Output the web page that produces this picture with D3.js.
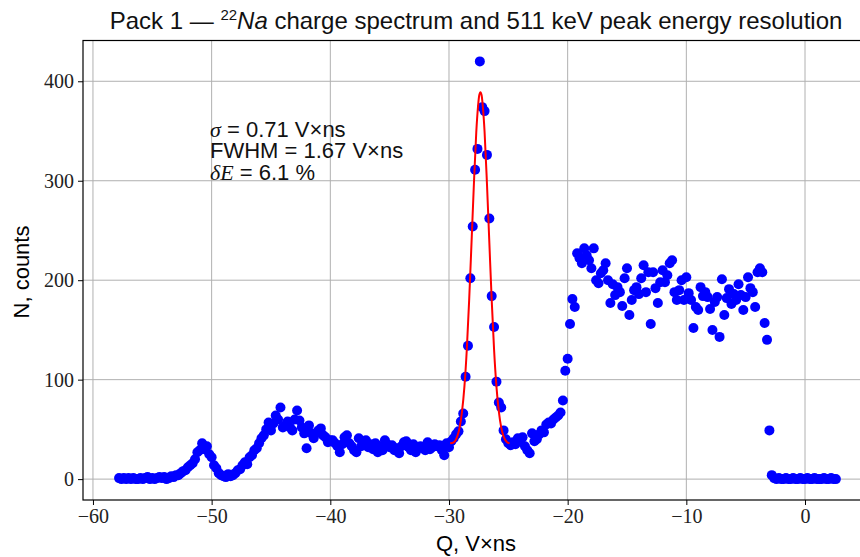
<!DOCTYPE html>
<html>
<head>
<meta charset="utf-8">
<script src="https://cdn.jsdelivr.net/npm/d3@7"></script>
<style>
  body { margin: 0; background: #fff; }
  .tick text { font-family: "Liberation Serif", serif; }
</style>
</head>
<body>
<div id="chart"></div>
<script>
// 22Na charge spectrum, Pack 1  -- [Q (V x ns), N counts]
var lowTail = [[-57.8,1],[-57.6,0],[-57.4,1],[-57.2,0],[-57.0,1],[-56.8,0],[-56.6,1],[-56.4,0],[-56.2,0],[-56.0,1],
  [-55.8,0],[-55.6,1],[-55.4,2],[-55.2,0],[-55.0,1],[-54.8,0],[-54.6,1],[-54.4,2],[-54.2,1],[-54.0,2],
  [-53.8,0],[-53.6,1],[-53.4,3],[-53.2,2],[-53.0,4]];
var comptonBumps = [[-52.8,4],[-52.6,6],[-52.4,8],[-52.2,9],[-52.0,12],[-51.8,14],[-51.6,16],[-51.4,20],[-51.2,27],[-51.0,29],
  [-50.8,36],[-50.6,30],[-50.4,33],[-50.2,25],[-50.0,22],[-49.8,14],[-49.6,11],[-49.4,6],[-49.2,4],[-49.0,3],
  [-48.8,2],[-48.6,5],[-48.4,3],[-48.2,4],[-48.0,6],[-47.8,9],[-47.6,10],[-47.4,14],[-47.2,17],[-47.0,15],
  [-46.8,22],[-46.6,24],[-46.4,29],[-46.2,31],[-46.0,36],[-45.8,41],[-45.6,44],[-45.4,50],[-45.2,57],[-45.0,49]];
var plateau = [[-44.8,56],[-44.6,64],[-44.4,60],[-44.2,72],[-44.0,52],[-43.8,54],[-43.6,58],[-43.4,52],[-43.2,49],[-43.0,60],
  [-42.8,69],[-42.6,59],[-42.4,52],[-42.2,46],[-42.0,31],[-41.8,54],[-41.6,46],[-41.4,41],[-41.2,46],[-41.0,49],
  [-40.8,51],[-40.6,44],[-40.4,42],[-40.2,37],[-40.0,39],[-39.8,39],[-39.6,36],[-39.4,33],[-39.2,27],[-39.0,35],
  [-38.8,42],[-38.6,44],[-38.4,36],[-38.2,33],[-38.0,29],[-37.8,27],[-37.6,41],[-37.4,33],[-37.2,37],[-37.0,39],
  [-36.8,32],[-36.6,35],[-36.4,30],[-36.2,36],[-36.0,27],[-35.8,33],[-35.6,29],[-35.4,39],[-35.2,35],[-35.0,32],
  [-34.8,34],[-34.6,29],[-34.4,31],[-34.2,26],[-34.0,33],[-33.8,37],[-33.6,38],[-33.4,32],[-33.2,29],[-33.0,35],
  [-32.8,27],[-32.6,31],[-32.4,33],[-32.2,31],[-32.0,29],[-31.8,37],[-31.6,30],[-31.4,32],[-31.2,35],[-31.0,33],
  [-30.8,34],[-30.6,29],[-30.4,24],[-30.2,36],[-30.0,32]];
var peak511 = [[-29.8,38],[-29.6,41],[-29.4,45],[-29.2,48],[-29.0,58],[-28.8,66],[-28.6,103],[-28.4,134],[-28.2,202],[-28.0,254],
  [-27.8,311],[-27.6,332],[-27.4,420],[-27.2,374],[-27.0,370],[-26.8,326],[-26.6,262],[-26.4,184],[-26.2,153],[-26.0,98],
  [-25.8,77],[-25.6,72],[-25.4,49],[-25.2,40],[-25.0,36]];
var edgeRise = [[-24.8,34],[-24.6,37],[-24.4,35],[-24.2,41],[-24.0,38],[-23.8,42],[-23.6,33],[-23.4,29],[-23.2,26],[-23.0,46],
  [-22.8,38],[-22.6,40],[-22.4,45],[-22.2,49],[-22.0,47],[-21.8,55],[-21.6,57],[-21.4,56],[-21.2,60],[-21.0,62],
  [-20.8,64],[-20.6,67],[-20.4,79],[-20.2,109],[-20.0,121],[-19.8,156],[-19.6,181]];
var shoulder = [[-19.4,173],[-19.2,227],[-19.0,222],[-18.8,217],[-18.6,232],[-18.4,225],[-18.2,220],[-18.0,212],[-17.8,232],[-17.6,200],
  [-17.4,197],[-17.2,207],[-17.0,210],[-16.8,217],[-16.6,200],[-16.4,177],[-16.2,196],[-16.0,185],[-15.8,193],[-15.6,188],
  [-15.4,174],[-15.2,202],[-15.0,212],[-14.8,165],[-14.6,180],[-14.4,190],[-14.2,193],[-14.0,186],[-13.8,202],[-13.6,215],
  [-13.4,188],[-13.2,208],[-13.0,156],[-12.8,208],[-12.6,192],[-12.4,177],[-12.2,198],[-12.0,210],[-11.8,198],[-11.6,205],
  [-11.4,217],[-11.2,220],[-11.0,188],[-10.8,180],[-10.6,190],[-10.4,200],[-10.2,180],[-10.0,203],[-9.8,187],[-9.6,180],
  [-9.4,152],[-9.2,173],[-9.0,170],[-8.8,193],[-8.6,184],[-8.4,188],[-8.2,183],[-8.0,171],[-7.8,150],[-7.6,178],
  [-7.4,183],[-7.2,143],[-7.0,201],[-6.8,165],[-6.6,182],[-6.4,191],[-6.2,176],[-6.0,186],[-5.8,180],[-5.6,196],
  [-5.4,185],[-5.2,170],[-5.0,183],[-4.8,203],[-4.6,192],[-4.4,188],[-4.2,173],[-4.0,208],[-3.8,212],[-3.6,208],
  [-3.4,157],[-3.2,140],[-3.0,49]];
var highTail = [[-2.8,4],[-2.6,1],[-2.4,0],[-2.2,1],[-2.0,0],[-1.8,0],[-1.6,1],[-1.4,0],[-1.2,0],[-1.0,1],
  [-0.8,0],[-0.6,0],[-0.4,1],[-0.2,0],[0.0,0],[0.2,1],[0.4,0],[0.6,0],[0.8,1],[1.0,0],
  [1.2,0],[1.4,0],[1.6,1],[1.8,0],[2.0,0],[2.2,1],[2.4,0],[2.6,0]];

// gaussian fit of the 511 keV peak
var fitQ = [-29.9,-29.6,-29.3,-29.1,-28.9,-28.7,-28.5,-28.3,-28.1,-27.9,-27.7,-27.55,-27.45,-27.35,
  -27.25,-27.15,-27.0,-26.8,-26.6,-26.4,-26.2,-26.0,-25.8,-25.6,-25.4,-25.1,-24.9];
var fitN = [36,37,43,52,68,93,130,180,238,297,349,375,386,389,386,375,349,297,238,180,130,93,68,52,43,37,36];

var xTicks = [-60,-50,-40,-30,-20,-10,0];
var yTicks = [0,100,200,300,400];
var fitText = ["0.71", "1.67", "6.1"];

var W = 860, H = 557;
var pL = 83, pR = 873, pT = 40.5, pB = 500;

var svg = d3.select("#chart").append("svg")
    .attr("width", W)
    .attr("height", H);

var x = d3.scaleLinear().domain([-60.84, 5.73]).range([pL, pR]);
var y = d3.scaleLinear().domain([-21, 441]).range([pB, pT]);

var spectrum = [].concat(lowTail, comptonBumps, plateau, peak511, edgeRise, shoulder, highTail);

// grid
svg.append("g").selectAll("line").data(xTicks).enter().append("line")
    .attr("x1", function(d){ return x(d); }).attr("x2", function(d){ return x(d); })
    .attr("y1", pT).attr("y2", pB)
    .attr("stroke", "#b0b0b0").attr("stroke-width", 1);
svg.append("g").selectAll("line").data(yTicks).enter().append("line")
    .attr("x1", pL).attr("x2", pR)
    .attr("y1", function(d){ return y(d); }).attr("y2", function(d){ return y(d); })
    .attr("stroke", "#b0b0b0").attr("stroke-width", 1);

// points
svg.append("g").selectAll("circle").data(spectrum).enter().append("circle")
    .attr("cx", function(d){ return x(d[0]); })
    .attr("cy", function(d){ return y(d[1]); })
    .attr("r", 5)
    .style("fill", "#0000ff");

// fit line
var line = d3.line()
    .x(function(d, i){ return x(fitQ[i]); })
    .y(function(d){ return y(d); })
    .curve(d3.curveMonotoneX);
svg.append("path").datum(fitN)
    .attr("d", line)
    .attr("fill", "none")
    .attr("stroke", "#ff0000")
    .attr("stroke-width", 2);

// frame
svg.append("rect")
    .attr("x", pL).attr("y", pT)
    .attr("width", pR - pL).attr("height", pB - pT)
    .attr("fill", "none").attr("stroke", "#000").attr("stroke-width", 1.2);

// axes
var xAxis = svg.append("g")
    .attr("transform", "translate(0," + pB + ")")
    .call(d3.axisBottom(x).tickValues(xTicks).tickSize(5).tickPadding(4));
var yAxis = svg.append("g")
    .attr("transform", "translate(" + pL + ",0)")
    .call(d3.axisLeft(y).tickValues(yTicks).tickSize(5).tickPadding(4));
[xAxis, yAxis].forEach(function(a){
    a.select(".domain").remove();
    a.selectAll(".tick text").attr("font-size", 20).attr("fill", "#222");
    a.selectAll(".tick line").attr("stroke", "#000");
});

// title
var title = svg.append("text")
    .attr("x", 476).attr("y", 29)
    .attr("text-anchor", "middle")
    .style("font-family", "Liberation Sans, sans-serif")
    .style("font-size", "24px")
    .attr("fill", "#111");
title.append("tspan").text("Pack 1 \u2014 ");
title.append("tspan").attr("dy", -9).style("font-size", "15px").text("22");
title.append("tspan").attr("dy", 9).style("font-style", "italic").text("Na");
title.append("tspan").text(" charge spectrum and 511 keV peak energy resolution");

// axis labels
svg.append("text")
    .attr("x", 476).attr("y", 551)
    .attr("text-anchor", "middle")
    .style("font-family", "Liberation Sans, sans-serif")
    .style("font-size", "22px")
    .text("Q, V\u00d7ns");
svg.append("text")
    .attr("transform", "translate(29,272) rotate(-90)")
    .attr("text-anchor", "middle")
    .style("font-family", "Liberation Sans, sans-serif")
    .style("font-size", "22px")
    .text("N, counts");

// annotation
var note = svg.append("g")
    .style("font-family", "Liberation Sans, sans-serif")
    .style("font-size", "22px")
    .attr("fill", "#111");
var l1 = note.append("text").attr("x", 210).attr("y", 137);
l1.append("tspan").style("font-family", "Liberation Serif, serif").style("font-style", "italic").text("\u03c3");
l1.append("tspan").text(" = " + fitText[0] + " V\u00d7ns");
note.append("text").attr("x", 210).attr("y", 158)
    .text("FWHM = " + fitText[1] + " V\u00d7ns");
var l3 = note.append("text").attr("x", 210).attr("y", 180);
l3.append("tspan").style("font-family", "Liberation Serif, serif").style("font-style", "italic").text("\u03b4E");
l3.append("tspan").text(" = " + fitText[2] + " %");
</script>
</body>
</html>
